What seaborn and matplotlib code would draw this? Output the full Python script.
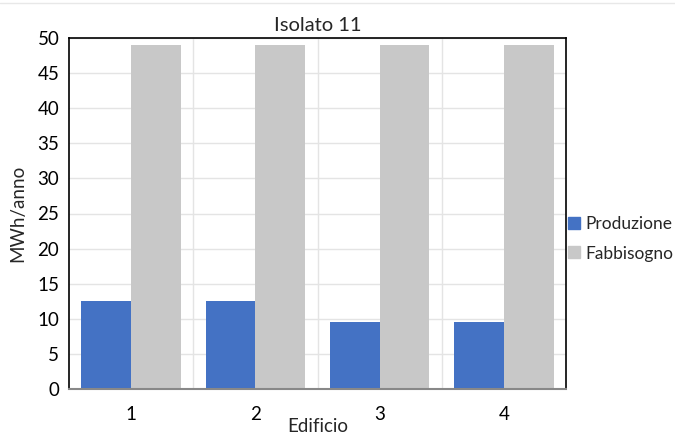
import matplotlib
matplotlib.use("Agg")
import matplotlib.pyplot as plt
import numpy as np
import pandas as pd
import seaborn as sns
from matplotlib.lines import Line2D

edifici = ["1", "2", "3", "4"]
produzione = [12.5, 12.5, 9.5, 9.5]
fabbisogno = [49, 49, 49, 49]

df = pd.DataFrame({
	"Edificio": edifici * 2,
	"Valore": produzione + fabbisogno,
	"Serie": ["Produzione"] * 4 + ["Fabbisogno"] * 4,
})

sns.set_style("white")
plt.rcParams["font.family"] = ["Lato", "DejaVu Sans"]

fig = plt.figure(figsize=(6.75, 4.34), dpi=100)
ax = fig.add_axes([69 / 675, 1 - 389 / 434, (566 - 69) / 675, (389 - 38) / 434])

palette = {"Produzione": "#4472C4", "Fabbisogno": "#C8C8C8"}
sns.barplot(data=df, x="Edificio", y="Valore", hue="Serie", palette=palette,
			width=0.8, saturation=1, linewidth=0, ax=ax, zorder=3)

ax.set_ylim(0, 50)
ax.set_xlim(-0.5, 3.5)
ax.set_yticks(np.arange(0, 51, 5))
ax.set_xticks(np.arange(0.5, 3, 1), minor=True)
ax.grid(axis="y", which="major", color="#E4E4E4", linewidth=1, zorder=0)
ax.grid(axis="x", which="minor", color="#E4E4E4", linewidth=1, zorder=0)
ax.tick_params(axis="both", which="both", length=0, labelsize=13.5, colors="black")
ax.tick_params(axis="x", pad=12)
ax.tick_params(axis="y", pad=7)

for side in ["top", "left", "right"]:
	ax.spines[side].set_visible(True)
	ax.spines[side].set_color("black")
	ax.spines[side].set_linewidth(1.2)
ax.spines["bottom"].set_color("#888888")
ax.spines["bottom"].set_linewidth(1.5)
for sp in ax.spines.values():
	sp.set_zorder(5)

ax.set_title("Isolato 11", fontsize=14.5, pad=5)
ax.set_ylabel("MWh/anno", fontsize=13.5, labelpad=8)
ax.set_xlabel("Edificio", fontsize=13.5, labelpad=-3)

ax.legend_.remove()
handles = [Line2D([], [], marker="s", linestyle="", markersize=8, color=palette[s], label=s)
		   for s in ["Produzione", "Fabbisogno"]]
fig.legend(handles=handles, loc="center left", bbox_to_anchor=(568 / 675, 1 - 239 / 434),
		   frameon=False, fontsize=12.5, handlelength=0.7, handletextpad=0.3,
		   labelspacing=0.75, borderpad=0, borderaxespad=0)

fig.add_artist(Line2D([0, 1], [1 - 3 / 434, 1 - 3 / 434], color="#E8E8E8", linewidth=1))

fig.savefig("out.png", dpi=100)
